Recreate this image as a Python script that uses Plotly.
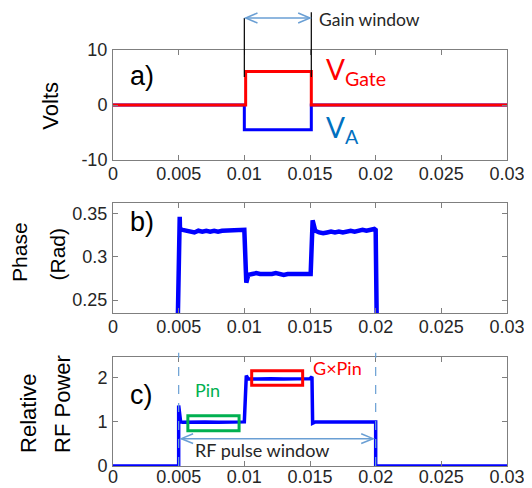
import plotly.graph_objects as go

# ---------------- data ----------------
x_ticks = [0, 0.005, 0.01, 0.015, 0.02, 0.025, 0.03]
x_tick_labels = ["0", "0.005", "0.01", "0.015", "0.02", "0.025", "0.03"]

# panel a: gate and amplifier voltages
t_gate = [0, 0.0101, 0.0101, 0.0151, 0.0151, 0.03]
v_gate = [0, 0, 6.1, 6.1, 0, 0]
t_va = [0, 0.0100, 0.0100, 0.0151, 0.0151, 0.03]
v_va = [0, 0, -4.5, -4.5, 0, 0]

# panel b: phase (rad)
t_phase = [0.0049, 0.00505, 0.00508, 0.0051, 0.0053, 0.0056, 0.0059, 0.0062, 0.0065,
           0.0068, 0.0071, 0.0074, 0.0077, 0.0080, 0.0083, 0.0086, 0.0089, 0.0092,
           0.0095, 0.0098, 0.0100, 0.01015, 0.0103, 0.0106, 0.0109, 0.0112, 0.0115,
           0.0118, 0.0121, 0.0124, 0.0127, 0.0130, 0.0133, 0.0136, 0.0139, 0.0142,
           0.0145, 0.0148, 0.01505, 0.0152, 0.0154, 0.0157, 0.0160, 0.0163, 0.0166,
           0.0169, 0.0172, 0.0175, 0.0178, 0.0181, 0.0184, 0.0187, 0.0190, 0.0193,
           0.0196, 0.0199, 0.0200, 0.0201]
phase = [0.20, 0.293, 0.346, 0.332, 0.331, 0.330, 0.329, 0.328, 0.330,
         0.329, 0.330, 0.329, 0.330, 0.329, 0.330, 0.330, 0.330, 0.331,
         0.330, 0.330, 0.331, 0.270, 0.279, 0.280, 0.281, 0.280, 0.280,
         0.279, 0.280, 0.281, 0.280, 0.279, 0.280, 0.280, 0.279, 0.280,
         0.280, 0.279, 0.280, 0.342, 0.330, 0.328, 0.327, 0.328, 0.329,
         0.328, 0.329, 0.328, 0.329, 0.330, 0.329, 0.330, 0.331, 0.330,
         0.331, 0.332, 0.331, 0.20]

# panel c: relative RF power
t_power = [0, 0.0050, 0.0050, 0.00515, 0.0053, 0.0060, 0.0070, 0.0080, 0.0090,
           0.0100, 0.01015, 0.0103, 0.0110, 0.0120, 0.0130, 0.0140, 0.0150,
           0.01515, 0.0152, 0.0154, 0.0160, 0.0170, 0.0180, 0.0190, 0.0200,
           0.0200, 0.03]
power = [0, 0, 1.37, 1.0, 0.99, 1.0, 1.0, 0.99, 1.0,
         1.0, 2.05, 1.97, 1.97, 1.98, 1.97, 1.97, 1.98,
         2.02, 0.97, 1.0, 1.0, 1.0, 1.0, 1.0, 1.0,
         0, 0]

# ---------------- styles ----------------
RED = "#ff0000"
BLUE = "#0000ff"
TXT_BLUE = "#0070c0"
ARROW = "#6a9fd4"
GREEN = "#00b050"
AX = "#7f7f7f"
TICKFONT = dict(family="Liberation Sans, Arial", size=18, color="#262626")
ANN_FONT = "Lato, Open Sans, sans-serif"
TITLE_FONT = "Liberation Sans, Arial"

fig = go.Figure()
fig.add_trace(go.Scatter(x=t_va, y=v_va, mode="lines", line=dict(color=BLUE, width=3),
                         xaxis="x", yaxis="y", hoverinfo="skip"))
fig.add_trace(go.Scatter(x=t_gate, y=v_gate, mode="lines", line=dict(color=RED, width=3),
                         xaxis="x", yaxis="y", hoverinfo="skip"))
fig.add_trace(go.Scatter(x=t_phase, y=phase, mode="lines", line=dict(color=BLUE, width=4.5),
                         xaxis="x2", yaxis="y2", hoverinfo="skip"))
fig.add_trace(go.Scatter(x=t_power, y=power, mode="lines", line=dict(color=BLUE, width=3.5),
                         xaxis="x3", yaxis="y3", hoverinfo="skip"))

def xaxis(anchor, standoff=-3):
    return dict(range=[0, 0.03], tickvals=x_ticks, ticktext=x_tick_labels, anchor=anchor,
                showline=True, linecolor=AX, linewidth=1, mirror="ticks", ticks="inside",
                ticklen=5, tickcolor=AX, showgrid=False, zeroline=False, tickfont=TICKFONT,
                ticklabelstandoff=standoff, automargin=False)

def yaxis(anchor, dom, rng, vals, texts):
    return dict(domain=dom, range=rng, tickvals=vals, ticktext=texts, anchor=anchor,
                showline=True, linecolor=AX, linewidth=1, mirror="ticks", ticks="inside",
                ticklen=5, tickcolor=AX, showgrid=False, zeroline=False, tickfont=TICKFONT,
                ticklabelstandoff=1, automargin=False)

# the page body adds an 8 px offset, so the figure is 8 px smaller than the window
fig.update_layout(
    width=524, height=480,
    margin=dict(l=105, r=25, t=42, b=22, autoexpand=False),
    paper_bgcolor="white", plot_bgcolor="white",
    showlegend=False,
    xaxis=xaxis("y"),
    xaxis2=xaxis("y2"),
    xaxis3=xaxis("y3", -6),
    yaxis=yaxis("x", [0.7356, 1.0], [-10, 10], [-10, 0, 10], ["-10", "0", "10"]),
    yaxis2=yaxis("x2", [0.3678, 0.6322], [0.235, 0.362], [0.25, 0.3, 0.35], ["0.25", "0.3", "0.35"]),
    yaxis3=yaxis("x3", [0.0, 0.262], [0, 2.47], [0, 1, 2], ["0", "1", "2"]),
)

shapes = []
# gain window markers (extend above panel a)
shapes.append(dict(type="line", xref="x", yref="paper", x0=0.0100, x1=0.0100, y0=1.077, y1=0.935,
                   line=dict(color="black", width=1.2)))
shapes.append(dict(type="line", xref="x", yref="paper", x0=0.0151, x1=0.0151, y0=1.091, y1=0.935,
                   line=dict(color="black", width=1.2)))
# RF pulse window dashed lines
for xv in [0.005, 0.02]:
    shapes.append(dict(type="line", xref="x3", yref="paper", x0=xv, x1=xv, y0=0, y1=0.272,
                       line=dict(color=ARROW, width=1.2, dash="dash")))
# Pin and G x Pin boxes
shapes.append(dict(type="rect", xref="x3", yref="y3", x0=0.0057, x1=0.0096, y0=0.80, y1=1.14,
                   line=dict(color=GREEN, width=3)))
shapes.append(dict(type="rect", xref="x3", yref="y3", x0=0.01056, x1=0.01444, y0=1.83, y1=2.16,
                   line=dict(color=RED, width=3)))

def double_arrow(xref, yref, xa, xb, yv, hx, hy):
    out = [dict(type="line", xref=xref, yref=yref, x0=xa, x1=xb, y0=yv, y1=yv,
                line=dict(color=ARROW, width=1.5))]
    out.append(dict(type="path", xref=xref, yref=yref,
                     path=f"M {xa+hx} {yv+hy} L {xa} {yv} L {xa+hx} {yv-hy}",
                     line=dict(color=ARROW, width=1.5)))
    out.append(dict(type="path", xref=xref, yref=yref,
                     path=f"M {xb-hx} {yv+hy} L {xb} {yv} L {xb-hx} {yv-hy}",
                     line=dict(color=ARROW, width=1.5)))
    return out

shapes += double_arrow("x", "paper", 0.0101, 0.0150, 1.077, 0.0009, 0.012)
shapes += double_arrow("x3", "y3", 0.0052, 0.0198, 0.62, 0.0009, 0.11)
fig.update_layout(shapes=shapes)

ann = []
def A(**kw):
    kw.setdefault("showarrow", False)
    kw.setdefault("xanchor", "center")
    kw.setdefault("yanchor", "middle")
    ann.append(kw)

# panel labels
A(x=0.0022, y=5.2, xref="x", yref="y", text="a)", font=dict(family="Liberation Sans", size=27, color="black"))
A(x=0.0022, y=0.3403, xref="x2", yref="y2", text="b)", font=dict(family="Liberation Sans", size=27, color="black"))
A(x=0.0022, y=1.62, xref="x3", yref="y3", text="c)", font=dict(family="Liberation Sans", size=27, color="black"))
# curve labels
A(x=0.0161, y=6.2, xref="x", yref="y", xanchor="left", text="V<sub>Gate</sub>",
  font=dict(family=ANN_FONT, size=28, color=RED))
A(x=0.0161, y=-4.3, xref="x", yref="y", xanchor="left", text="V<sub>A</sub>",
  font=dict(family=ANN_FONT, size=28, color=TXT_BLUE))
A(x=0.0156, y=1.074, xref="x", yref="paper", xanchor="left", text="Gain window",
  font=dict(family=ANN_FONT, size=17.5, color="#262626"), borderpad=0)
A(x=0.0072, y=1.73, xref="x3", yref="y3", text="Pin", font=dict(family=ANN_FONT, size=18, color=GREEN))
A(x=0.0171, y=2.23, xref="x3", yref="y3", text="G×Pin", font=dict(family=ANN_FONT, size=18, color=RED))
A(x=0.01135, y=0.36, xref="x3", yref="y3", text="RF pulse window",
  font=dict(family=ANN_FONT, size=18, color="#262626"))
# axis titles (one annotation per line, rotated, bottom-aligned)
A(x=-0.158, y=0.803, xref="paper", yref="paper", yanchor="bottom", text="Volts", textangle=-90,
  font=dict(family=TITLE_FONT, size=22, color="black"))
A(x=-0.236, y=0.44, xref="paper", yref="paper", yanchor="bottom", text="Phase", textangle=-90,
  font=dict(family=TITLE_FONT, size=21, color="black"), borderpad=0)
A(x=-0.142, y=0.44, xref="paper", yref="paper", yanchor="bottom", text="(Rad)", textangle=-90,
  font=dict(family=TITLE_FONT, size=21, color="black"))
A(x=-0.215, y=0.026, xref="paper", yref="paper", yanchor="bottom", text="Relative", textangle=-90,
  font=dict(family=TITLE_FONT, size=22, color="black"))
A(x=-0.13, y=0.026, xref="paper", yref="paper", yanchor="bottom", text="RF Power", textangle=-90,
  font=dict(family=TITLE_FONT, size=22, color="black"))
fig.update_layout(annotations=ann)

fig.write_html("out.html")
